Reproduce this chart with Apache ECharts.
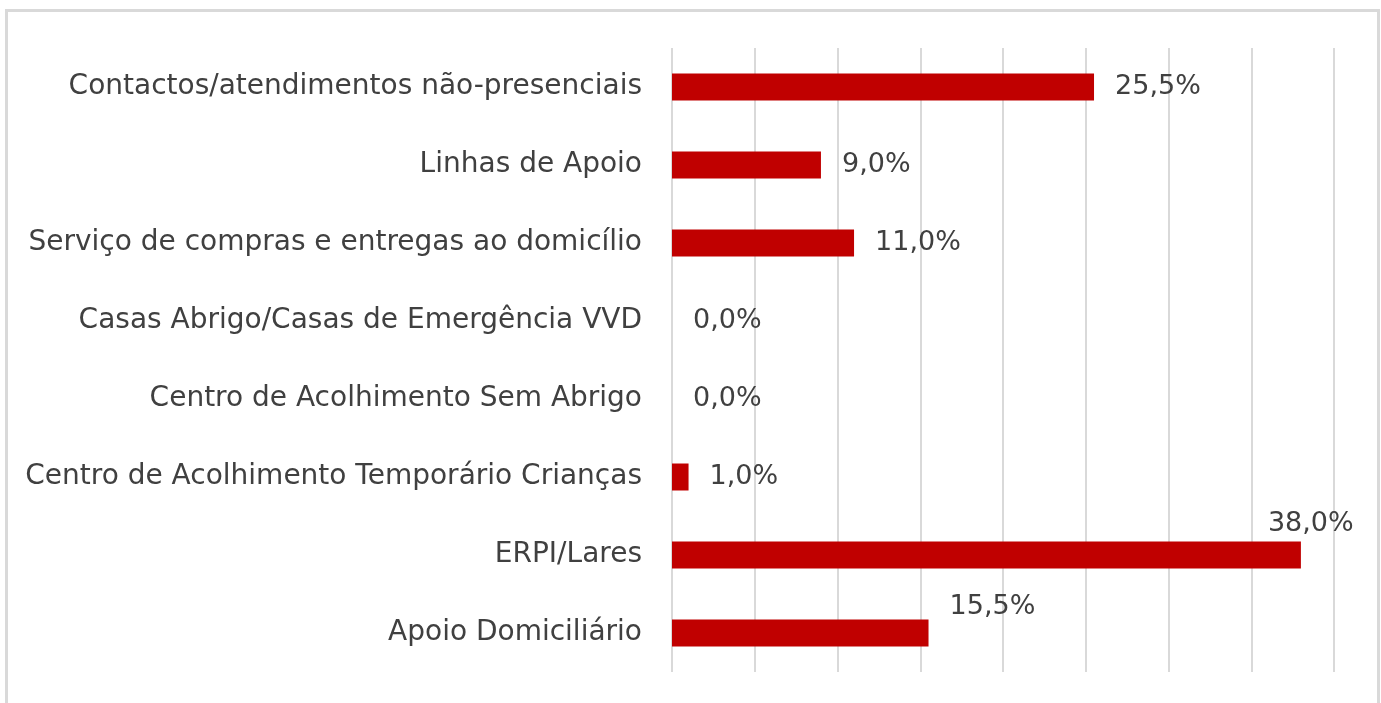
<!DOCTYPE html>
<html>
<head>
<meta charset="utf-8">
<script src="https://cdn.jsdelivr.net/npm/echarts@6/dist/echarts.min.js"></script>
<style>
html,body{margin:0;padding:0;background:#fff;}
#chart{width:1381px;height:703px;}
</style>
</head>
<body>
<div id="chart"></div>
<script>
// Categories listed bottom to top (ECharts category y-axis order)
const categories = [
  'Apoio Domiciliário',
  'ERPI/Lares',
  'Centro de Acolhimento Temporário Crianças',
  'Centro de Acolhimento Sem Abrigo',
  'Casas Abrigo/Casas de Emergência VVD',
  'Serviço de compras e entregas ao domicílio',
  'Linhas de Apoio',
  'Contactos/atendimentos não-presenciais'
];
const values = [15.5, 38.0, 1.0, 0.0, 0.0, 11.0, 9.0, 25.5];

const FONT = 'DejaVu Sans';
const TEXT = '#404040';

// label position tweaks (style only), keyed by category index
const labelOffsets = { 0: [0, -26], 1: [-54, -31] };

const seriesData = values.map((v, i) => {
  const item = { value: v };
  if (labelOffsets[i]) item.label = { offset: labelOffsets[i] };
  return item;
});

const chart = echarts.init(document.getElementById('chart'), null, { renderer: 'canvas' });
chart.setOption({
  animation: false,
  backgroundColor: '#ffffff',
  graphic: [{
    type: 'rect',
    left: 4, top: 8,
    shape: { width: 1372, height: 710 },
    style: { fill: 'none', stroke: '#d9d9d9', lineWidth: 3 },
    silent: true
  }],
  grid: { left: 672, right: 47, top: 48, bottom: 31, containLabel: false },
  xAxis: {
    type: 'value',
    min: 0, max: 40, interval: 5,
    axisLabel: { show: false },
    axisLine: { show: false },
    axisTick: { show: false },
    splitLine: { show: true, lineStyle: { color: '#d9d9d9', width: 2 } }
  },
  yAxis: {
    type: 'category',
    data: categories,
    axisLine: { show: false },
    axisTick: { show: false },
    axisLabel: {
      color: TEXT, fontFamily: FONT, fontSize: 28, margin: 30
    }
  },
  series: [{
    type: 'bar',
    data: seriesData,
    barWidth: 27,
    itemStyle: { color: '#c00000' },
    label: {
      show: true,
      position: 'right',
      distance: 21,
      color: TEXT,
      fontFamily: FONT,
      fontSize: 27,
      formatter: p => p.value.toFixed(1).replace('.', ',') + '%'
    }
  }]
});
</script>
</body>
</html>
